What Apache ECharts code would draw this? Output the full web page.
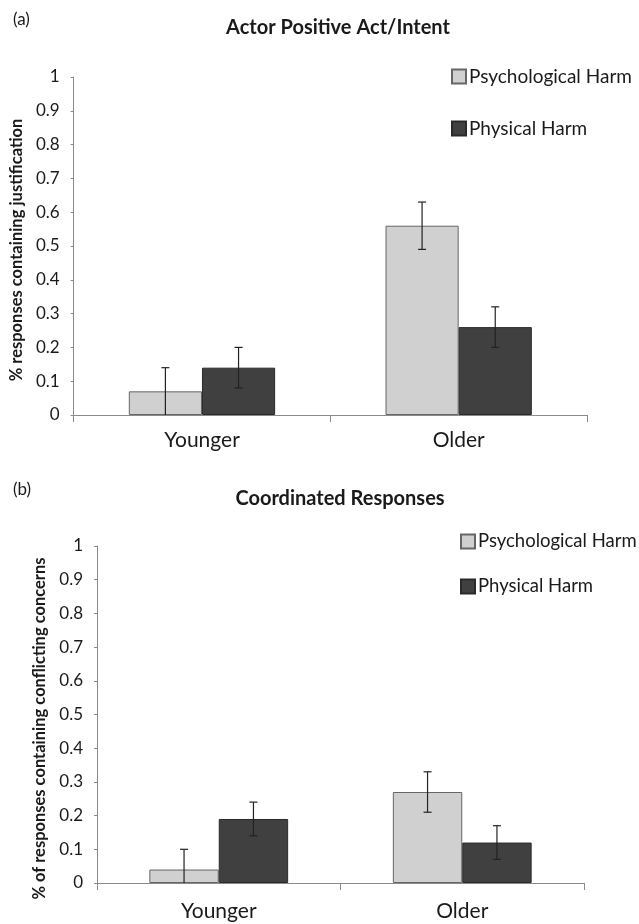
<!DOCTYPE html>
<html>
<head>
<meta charset="utf-8">
<script src="https://cdn.jsdelivr.net/npm/echarts@6/dist/echarts.min.js"></script>
<style>html,body{margin:0;padding:0;background:#fff}#c{width:639px;height:924px}</style>
</head>
<body>
<div id="c"></div>
<script>
var categories = ['Younger', 'Older'];
var seriesNames = ['Psychological Harm', 'Physical Harm'];
var yTicks = [0, 0.1, 0.2, 0.3, 0.4, 0.5, 0.6, 0.7, 0.8, 0.9, 1];

// Panel (a)
var aPsych = [0.07, 0.56];
var aPhys = [0.14, 0.26];
var aPsychLow = [0.00, 0.49];
var aPsychHigh = [0.14, 0.63];
var aPhysLow = [0.08, 0.20];
var aPhysHigh = [0.20, 0.32];

// Panel (b)
var bPsych = [0.04, 0.27];
var bPhys = [0.19, 0.12];
var bPsychLow = [0.00, 0.21];
var bPsychHigh = [0.10, 0.33];
var bPhysLow = [0.14, 0.07];
var bPhysHigh = [0.24, 0.17];

var FONT = 'Lato';
var BAR_GAP_CAT = 0.43;
var colors = ['#d0d0d0', '#404040'];

function errSeries(grid, seriesIdx, lows, highs) {
  var data = lows.map(function (l, i) { return [i, l, highs[i]]; });
  return {
    type: 'custom',
    xAxisIndex: grid, yAxisIndex: grid,
    silent: true, z: 10,
    data: data,
    renderItem: function (params, api) {
      var ci = api.value(0);
      var lo = api.coord([ci, api.value(1)]);
      var hi = api.coord([ci, api.value(2)]);
      var catW = api.size([1, 0])[0];
      var barW = catW * (1 - BAR_GAP_CAT) / 2;
      var off = (seriesIdx === 0 ? -1 : 1) * barW / 2;
      var x = lo[0] + off;
      var cap = 4;
      var st = { stroke: '#222', lineWidth: 1.2 };
      var children = [
        { type: 'line', shape: { x1: x, y1: lo[1], x2: x, y2: hi[1] }, style: st },
        { type: 'line', shape: { x1: x - cap, y1: hi[1], x2: x + cap, y2: hi[1] }, style: st }
      ];
      if (api.value(1) > 0) {
        children.push({ type: 'line', shape: { x1: x - cap, y1: lo[1], x2: x + cap, y2: lo[1] }, style: st });
      }
      return { type: 'group', children: children };
    }
  };
}

function barSeries(grid, idx, vals) {
  return {
    name: seriesNames[idx],
    type: 'bar',
    xAxisIndex: grid, yAxisIndex: grid,
    data: vals,
    barGap: '0%',
    barCategoryGap: (BAR_GAP_CAT * 100) + '%',
    itemStyle: { color: colors[idx], borderColor: idx === 0 ? '#666' : '#2a2a2a', borderWidth: 1 },
    emphasis: { disabled: true }
  };
}

function xAx(grid, margin) {
  return {
    type: 'category', gridIndex: grid, data: categories,
    axisLine: { lineStyle: { color: '#8a8a8a', width: 1 } },
    axisTick: { show: true, length: 7, lineStyle: { color: '#8a8a8a' } },
    axisLabel: { fontFamily: FONT, fontSize: 21, color: '#1a1a1a', margin: margin }
  };
}

function yAx(grid, name, gap, shift) {
  return {
    type: 'value', gridIndex: grid, min: 0, max: 1, interval: 0.1,
    name: name, nameLocation: 'middle', nameGap: gap, nameRotate: 90,
    nameTextStyle: { fontFamily: FONT, fontSize: 16.5, fontWeight: 'bold', color: '#1a1a1a', padding: [0, shift, 0, 0] },
    axisLine: { show: true, lineStyle: { color: '#8a8a8a', width: 1 } },
    axisTick: { show: true, length: 3, lineStyle: { color: '#8a8a8a' } },
    splitLine: { show: false },
    axisLabel: {
      fontFamily: FONT, fontSize: 17, color: '#1a1a1a', margin: 14,
      formatter: function (v) {
        var t = yTicks.filter(function (k) { return Math.abs(k - v) < 1e-6; })[0];
        return t === undefined ? '' : String(t);
      }
    }
  };
}

var legendTextA = { fontFamily: FONT, fontSize: 19, color: '#1a1a1a', padding: [0, 0, 0, -2] };
var legendTextB = { fontFamily: FONT, fontSize: 18.5, color: '#1a1a1a', padding: [0, 0, 0, -2] };

var chart = echarts.init(document.getElementById('c'), null, { renderer: 'canvas' });
chart.setOption({
  animation: false,
  backgroundColor: '#fff',
  title: [
    { text: '(a)', left: 8, top: 6, textStyle: { fontFamily: FONT, fontSize: 17, fontWeight: 'normal', color: '#1a1a1a' } },
    { text: 'Actor Positive Act/Intent', left: 333, top: 13, textAlign: 'center', textStyle: { fontFamily: FONT, fontSize: 20, fontWeight: 'bold', color: '#1a1a1a' } },
    { text: '(b)', left: 8, top: 476, textStyle: { fontFamily: FONT, fontSize: 17, fontWeight: 'normal', color: '#1a1a1a' } },
    { text: 'Coordinated Responses', left: 335, top: 484, textAlign: 'center', textStyle: { fontFamily: FONT, fontSize: 20, fontWeight: 'bold', color: '#1a1a1a' } }
  ],
  legend: [
    {
      data: seriesNames, orient: 'vertical', left: 446, top: 62, itemWidth: 14, itemHeight: 14, itemGap: 33,
      icon: 'rect', selectedMode: false, textStyle: legendTextA
    },
    {
      data: seriesNames, orient: 'vertical', left: 455, top: 527, itemWidth: 14, itemHeight: 14, itemGap: 26,
      icon: 'rect', selectedMode: false, textStyle: legendTextB
    }
  ],
  grid: [
    { left: 69, right: 52, top: 77, bottom: 509 },
    { left: 97, right: 55, top: 546, bottom: 41 }
  ],
  xAxis: [xAx(0, 15), xAx(1, 18)],
  yAxis: [
    yAx(0, '% responses containing justification', 47, 8),
    yAx(1, '% of responses containing conflicting concerns', 48, 28)
  ],
  series: [
    barSeries(0, 0, aPsych),
    barSeries(0, 1, aPhys),
    barSeries(1, 0, bPsych),
    barSeries(1, 1, bPhys),
    errSeries(0, 0, aPsychLow, aPsychHigh),
    errSeries(0, 1, aPhysLow, aPhysHigh),
    errSeries(1, 0, bPsychLow, bPsychHigh),
    errSeries(1, 1, bPhysLow, bPhysHigh)
  ]
});
</script>
</body>
</html>
